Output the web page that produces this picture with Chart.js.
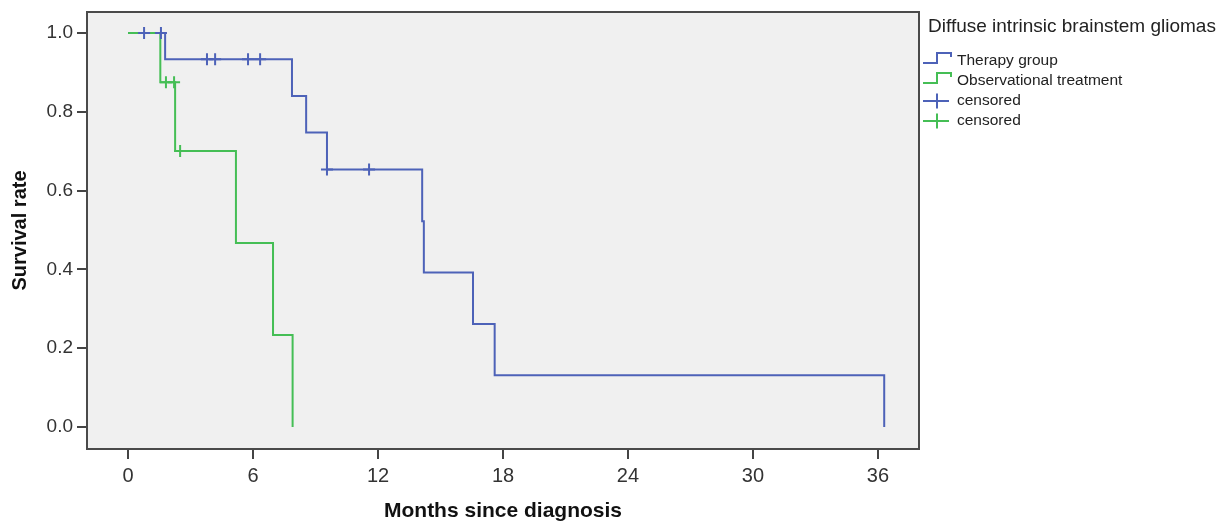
<!DOCTYPE html>
<html>
<head>
<meta charset="utf-8">
<script src="https://cdn.jsdelivr.net/npm/chart.js@4.4.1/dist/chart.umd.min.js"></script>
<style>
  body { margin: 0; background: #fff; }
  #wrap { width: 1229px; height: 524px; }
</style>
</head>
<body>
<div id="wrap"><canvas id="km" width="1229" height="524"></canvas></div>
<script>
// Kaplan-Meier steps (months, survival)
const therapyTimes = [0, 1.78, 7.87, 8.55, 9.55, 14.12, 14.2, 16.56, 17.6, 36.3];
const therapySurv = [1, 0.933, 0.84, 0.747, 0.653, 0.522, 0.392, 0.261, 0.131, 0];
const therapyCensTimes = [0.77, 1.58, 3.79, 4.18, 5.76, 6.34, 9.55, 11.57];
const therapyCensSurv = [1, 1, 0.933, 0.933, 0.933, 0.933, 0.653, 0.653];

const obsTimes = [0, 1.55, 2.26, 5.18, 6.96, 7.9];
const obsSurv = [1, 0.875, 0.7, 0.467, 0.233, 0];
const obsCensTimes = [1.82, 2.21, 2.5];
const obsCensSurv = [0.875, 0.875, 0.7];

const xTicks = [0, 6, 12, 18, 24, 30, 36];
const yTicks = [0, 0.2, 0.4, 0.6, 0.8, 1.0];

const legendTitle = "Diffuse intrinsic brainstem gliomas";
const legendNames = ["Therapy group", "Observational treatment", "censored", "censored"];

const BLUE = "#4d62b8";
const GREEN = "#45be55";
const FONT = "'Liberation Sans', Arial, sans-serif";

const pts = (xs, ys) => xs.map((x, i) => ({ x: x, y: ys[i] }));

// Plot background, frame and the SPSS-style legend
const frameAndLegend = {
  id: "frameAndLegend",
  beforeDraw(chart) {
    const { ctx, chartArea: a } = chart;
    ctx.save();
    ctx.fillStyle = "#f0f0f0";
    ctx.fillRect(a.left, a.top, a.right - a.left, a.bottom - a.top);
    ctx.restore();
  },
  afterDraw(chart) {
    const { ctx, chartArea: a } = chart;
    ctx.save();
    ctx.strokeStyle = "#4a4a4a";
    ctx.lineWidth = 2;
    ctx.strokeRect(a.left, a.top, a.right - a.left, a.bottom - a.top);

    // legend
    const lx = 923;
    ctx.fillStyle = "#222";
    ctx.textBaseline = "middle";
    ctx.font = "19px " + FONT;
    ctx.fillText(legendTitle, 928, 27);

    const colors = [BLUE, GREEN, BLUE, GREEN];
    ctx.font = "15.5px " + FONT;
    legendNames.forEach((name, i) => {
      const cy = 61 + i * 20;
      ctx.strokeStyle = colors[i];
      ctx.lineWidth = 2;
      ctx.beginPath();
      if (i < 2) {
        ctx.moveTo(lx, cy + 2);
        ctx.lineTo(lx + 14, cy + 2);
        ctx.lineTo(lx + 14, cy - 8);
        ctx.lineTo(lx + 28, cy - 8);
        ctx.lineTo(lx + 28, cy - 4);
      } else {
        ctx.moveTo(lx, cy);
        ctx.lineTo(lx + 26, cy);
        ctx.moveTo(lx + 14, cy - 7.5);
        ctx.lineTo(lx + 14, cy + 7.5);
      }
      ctx.stroke();
      ctx.fillStyle = "#222";
      ctx.fillText(name, 957, cy);
    });
    ctx.restore();
  },
};

new Chart(document.getElementById("km"), {
  type: "scatter",
  data: {
    datasets: [
      {
        label: "censored",
        data: pts(therapyCensTimes, therapyCensSurv),
        pointStyle: "cross",
        pointRadius: 6,
        borderColor: BLUE,
        borderWidth: 2,
        order: 0,
      },
      {
        label: "censored",
        data: pts(obsCensTimes, obsCensSurv),
        pointStyle: "cross",
        pointRadius: 6,
        borderColor: GREEN,
        borderWidth: 2,
        order: 1,
      },
      {
        label: "Observational treatment",
        data: pts(obsTimes, obsSurv),
        showLine: true,
        stepped: true,
        borderColor: GREEN,
        borderWidth: 2,
        pointRadius: 0,
        order: 2,
      },
      {
        label: "Therapy group",
        data: pts(therapyTimes, therapySurv),
        showLine: true,
        stepped: true,
        borderColor: BLUE,
        borderWidth: 2,
        pointRadius: 0,
        order: 3,
      },
    ],
  },
  options: {
    responsive: false,
    animation: false,
    events: [],
    layout: { padding: { top: 12, right: 310, left: 0, bottom: 0 } },
    plugins: { legend: { display: false }, tooltip: { enabled: false } },
    scales: {
      x: {
        type: "linear",
        min: -1.97,
        max: 37.97,
        afterBuildTicks: (s) => { s.ticks = xTicks.map((v) => ({ value: v })); },
        afterFit: (s) => { s.height = 75; s.paddingLeft = 0; s.paddingRight = 0; },
        border: { display: false },
        grid: { drawOnChartArea: false, tickLength: 10, color: "#444", lineWidth: 2 },
        ticks: {
          padding: 5,
          maxRotation: 0,
          color: "#333",
          font: { family: FONT, size: 20 },
        },
        title: {
          display: true,
          text: "Months since diagnosis",
          color: "#111",
          font: { family: FONT, size: 21, weight: "bold" },
          padding: { top: 0, bottom: 0 },
        },
      },
      y: {
        min: -0.056,
        max: 1.053,
        afterBuildTicks: (s) => { s.ticks = yTicks.map((v) => ({ value: v })); },
        afterFit: (s) => { s.width = 87; s.paddingTop = 0; s.paddingBottom = 0; },
        border: { display: false },
        grid: { drawOnChartArea: false, tickLength: 10, color: "#444", lineWidth: 2 },
        ticks: {
          padding: 4,
          color: "#333",
          font: { family: FONT, size: 19 },
          callback: (v) => v.toFixed(1),
        },
        title: {
          display: true,
          text: "Survival rate",
          color: "#111",
          font: { family: FONT, size: 20, weight: "bold" },
          padding: { top: 8, bottom: 0 },
        },
      },
    },
  },
  plugins: [frameAndLegend],
});
</script>
</body>
</html>
